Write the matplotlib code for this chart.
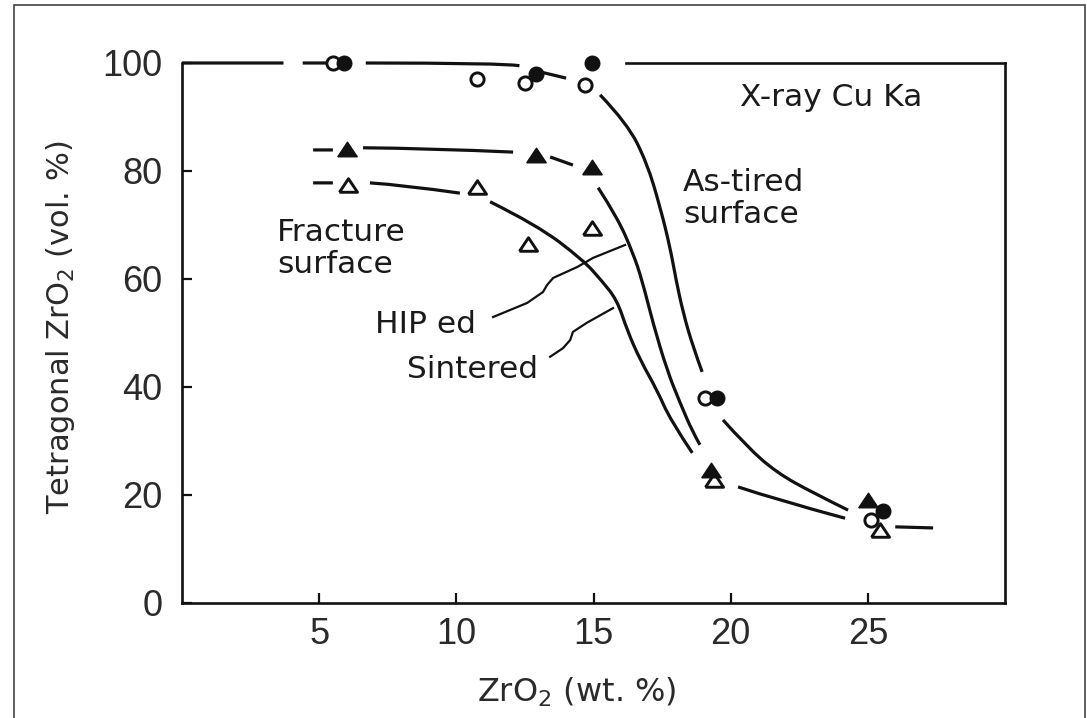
import numpy as np
import matplotlib
matplotlib.use("Agg")
import matplotlib.pyplot as plt
from matplotlib.patches import Rectangle, PathPatch
from matplotlib.path import Path

# ---------------- data ----------------
x_ticks = [5, 10, 15, 20, 25]
y_ticks = [0, 20, 40, 60, 80, 100]

# measured points
open_circle_x = [5.5, 10.75, 12.5, 14.7, 19.07, 25.1]      # sintered, as-fired surface
open_circle_y = [100, 97, 96.3, 96, 38, 15.4]
filled_circle_x = [5.9, 12.9, 14.95, 19.5, 25.55]          # HIP'ed, as-fired surface
filled_circle_y = [100, 98, 100, 38, 17]
filled_tri_x = [6.0, 12.9, 14.95, 19.3, 25.0]               # HIP'ed, fracture surface
filled_tri_y = [84, 83, 80.7, 24.6, 19]
open_tri_x = [6.05, 10.75, 12.6, 14.95, 19.4, 25.45]        # sintered, fracture surface
open_tri_y = [77.5, 77, 66.5, 69.4, 22.8, 13.5]

nan = np.nan
# hand-drawn guide curves (NaN = gap in the drawn line)
asfired_x = [0, 3.7, nan, 4.4, 5.3, nan, 6.7, 11.7, 12.3, nan, 13.1, 14.0, nan,
             15.24, 16.22, 16.95, 17.43, 17.79, 18.01, 18.27, 18.63, 18.96,
             nan, 19.72, 20.6, 21.69, 23.0, 24.28]
asfired_y = [100, 100, nan, 100, 100, nan, 100, 100, 99.5, nan, 98.3, 97.2, nan,
             94.1, 88.9, 81.5, 73.3, 65.9, 59.8, 53.7, 47.4, 42.8,
             nan, 33.9, 28.9, 24.1, 20.4, 17.2]
hip_x = [4.78, 5.5, nan, 6.6, 9.0, 12.07, nan, 13.42, 14.25, nan, 15.17, 15.86, 16.44, 16.77, 17.17, 17.68, 18.16,
         18.63, 18.88]
hip_y = [83.9, 83.9, nan, 84.3, 84.2, 83.5, nan, 82.6, 81.1, nan, 76.9, 71.5, 64.8, 59.8, 51.8, 43.1, 37.0,
         31.5, 29.3]
sint_x = [4.78, 5.5, nan, 6.85, 8.06, 10.13, nan, 11.23, 12.94, 14.62, 15.28, 15.86, 16.22, 16.7, 17.32, 17.8, 18.6,
          nan, 20.27, 21.69, 24.17, nan, 26.0, 27.38]
sint_y = [77.8, 77.8, nan, 77.8, 77.4, 75.9, nan, 74.3, 70.0, 63.5, 59.8, 56.1, 50.6, 45.0, 39.4, 33.9, 27.8,
          nan, 21.5, 19.1, 15.7, nan, 14.1, 13.9]
top_frame_start = 16.2   # the upper frame line only resumes right of the 15 wt.% markers

# leader lines from labels to curves
hip_leader_x = [11.34, 12.58, 13.16, 13.31, 13.53, 14.4, 14.98, 16.15]
hip_leader_y = [52.96, 55.56, 57.6, 58.9, 60.2, 62.2, 63.9, 66.3]
sint_leader_x = [13.42, 13.89, 14.15, 14.25, 14.76, 15.71]
sint_leader_y = [45.6, 47.2, 48.7, 50.2, 51.9, 54.6]


def smooth_path(xs, ys):
    """Quadratic-Bezier path through the read points (library draws the curve)."""
    verts, codes = [], []
    seg = []
    pts = list(zip(xs, ys)) + [(nan, nan)]
    for p in pts:
        if np.isnan(p[0]):
            if len(seg) >= 2:
                verts.append(seg[0]); codes.append(Path.MOVETO)
                if len(seg) == 2:
                    verts.append(seg[1]); codes.append(Path.LINETO)
                else:
                    for i in range(1, len(seg) - 1):
                        end = seg[i + 1] if i == len(seg) - 2 else (
                            (seg[i][0] + seg[i + 1][0]) / 2, (seg[i][1] + seg[i + 1][1]) / 2)
                        verts += [seg[i], end]; codes += [Path.CURVE3, Path.CURVE3]
            seg = []
        else:
            seg.append(p)
    return Path(verts, codes)


# ---------------- figure ----------------
W, H = 1087, 718
fig = plt.figure(figsize=(W / 100, H / 100), dpi=100)
fig.patch.set_facecolor("white")
ax = fig.add_axes([182 / W, 1 - 603 / H, (1005 - 182) / W, (603 - 63) / H])

ink = "#111111"
lw_curve = 2.3

for cx, cy in [(asfired_x, asfired_y), (hip_x, hip_y), (sint_x, sint_y)]:
    pp = PathPatch(smooth_path(cx, cy), fill=False, edgecolor=ink, lw=lw_curve,
                   capstyle="butt", zorder=2)
    pp.set_clip_on(False)
    ax.add_patch(pp)
for cx, cy in [(hip_leader_x, hip_leader_y), (sint_leader_x, sint_leader_y)]:
    ax.plot(cx, cy, color=ink, lw=1.6, zorder=2)

tri = [(-1, -0.75), (1, -0.75), (0, 0.75), (-1, -0.75)]
ax.plot(open_circle_x, open_circle_y, ls="none", marker="o", ms=9.5, mfc="white", mec=ink, mew=2.1,
        zorder=3, clip_on=False)
ax.plot(open_tri_x, open_tri_y, ls="none", marker=tri, ms=13, mfc="white", mec=ink, mew=2.1,
        zorder=3, clip_on=False)
ax.plot(filled_circle_x, filled_circle_y, ls="none", marker="o", ms=10.5, mfc=ink, mec=ink,
        zorder=4, clip_on=False)
ax.plot(filled_tri_x, filled_tri_y, ls="none", marker=tri, ms=14, mfc=ink, mec=ink,
        zorder=4, clip_on=False)

ax.set_xlim(0, 30)
ax.set_ylim(0, 100)
ax.set_xticks(x_ticks)
ax.set_yticks(y_ticks)
for s in ax.spines.values():
    s.set_linewidth(1.9)
    s.set_color(ink)
ax.spines["top"].set_bounds(top_frame_start, 30)
ax.tick_params(axis="both", direction="in", length=7, width=1.6, color=ink, labelcolor="#2a2a2a")
ax.tick_params(axis="x", pad=10)
ax.tick_params(axis="y", pad=14)
for lab in ax.get_xticklabels() + ax.get_yticklabels():
    lab.set_fontfamily("Liberation Sans")
    lab.set_fontsize(26)

ax.set_xlabel("ZrO$_2$ (wt. %)", fontsize=23, color="#2a2a2a", va="top")
ax.xaxis.set_label_coords(0.48, -0.135)
ax.set_ylabel("Tetragonal ZrO$_2$ (vol. %)", fontsize=22, color="#2a2a2a")
ax.yaxis.set_label_coords(-0.128, 0.51)

txt = dict(fontsize=22.5, color="#1a1a1a", ha="left", va="top", linespacing=1.15)
ax.text(20.34, 96.3, "X-ray Cu Ka", **txt)
ax.text(18.27, 80.6, "As-tired\nsurface", **txt)
ax.text(3.46, 71.3, "Fracture\nsurface", **txt)
ax.text(7.04, 54.3, "HIP ed", **txt)
ax.text(8.2, 45.9, "Sintered", **txt)

# thin frame around the whole picture
fig.patches.append(Rectangle((14 / W, -0.05), (1085 - 14) / W, 1.05 - 5 / H, transform=fig.transFigure,
                             fill=False, edgecolor="#444444", lw=1.2))

fig.savefig("out.png", dpi=100, facecolor="white")
